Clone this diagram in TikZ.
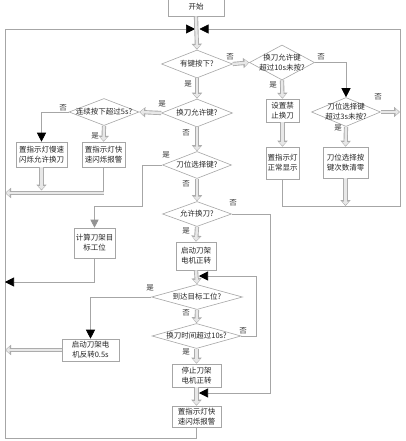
\documentclass[tikz,border=0pt]{standalone}
\usepackage{fontspec}
\setmainfont{Noto Sans CJK SC}
\usetikzlibrary{arrows.meta,shapes.geometric}
\tikzset{
 fnt/.style={font=\fontsize{7.5}{10}\selectfont},
 box/.style={draw=gray!70, line width=0.6pt, fill=white, rectangle, inner sep=0pt, align=center, fnt, text=black!85},
 dia/.style={draw=gray!70, line width=0.6pt, fill=white, diamond, inner sep=0pt},
 dtext/.style={fnt, align=center, inner sep=0pt, text=black!85},
 yn/.style={font=\fontsize{7.5}{9}\selectfont, text=black!80, inner sep=0pt},
 ln/.style={draw=gray!70, line width=0.6pt},
 btip/.style={ln, -{Triangle[width=9pt,length=9pt,color=black]}},
 gtip/.style={ln, -{Triangle[width=8pt,length=8pt,color=gray!85]}},
 bigarrow/.style={draw=gray!18, line width=2.4pt, shorten >=1pt, -{Triangle[width=6.5pt,length=3.5pt]},
   preaction={draw=gray!65, line width=4.2pt, shorten >=0pt, -{Triangle[width=10pt,length=6pt]}}}
}
\begin{document}
\begin{tikzpicture}[x=1pt,y=-1pt]
\useasboundingbox[fill=white] (0,0) rectangle (406,441);
% coordinates
\coordinate (jL) at (195,29);
\coordinate (jR) at (199.5,29);
\coordinate (Lx) at (5,0);
\coordinate (Rx) at (400,0);
\coordinate (cBL) at (5,438);
\coordinate (cR) at (400,206);
\coordinate (c6) at (142,206);
\coordinate (c7) at (270,393);
\coordinate (t7) at (199,393);
\coordinate (c9) at (256,276);
\coordinate (t9) at (199,276);
\coordinate (c10) at (5,282);
\coordinate (y190) at (0,190.5);
\coordinate (f1) at (103.5,193);
% boxes
\node[box, minimum width=56pt, minimum height=18pt] (start) at (196,7) {开始};
\node[box, minimum width=33pt, minimum height=23pt] (forbid) at (282.5,110.5) {设置禁\\止换刀};
\node[box, minimum width=33pt, minimum height=32pt] (normal) at (282.5,163) {置指示灯\\正常显示};
\node[box, minimum width=45pt, minimum height=31pt] (clear) at (345.5,162.5) {刀位选择按\\键次数清零};
\node[box, minimum width=51pt, minimum height=25pt] (slow) at (41.5,154.5) {置指示灯慢速\\闪烁允许换刀};
\node[box, minimum width=43pt, minimum height=25pt] (fast) at (103.5,154.5) {置指示灯快\\速闪烁报警};
\node[box, minimum width=41pt, minimum height=30pt] (calc) at (94.5,243) {计算刀架目\\标工位};
\node[box, minimum width=40pt, minimum height=28pt] (mstart) at (196,256) {启动刀架\\电机正转};
\node[box, minimum width=57pt, minimum height=22pt] (rev) at (90.5,350) {启动刀架电\\机反转0.5s};
\node[box, minimum width=49pt, minimum height=23pt] (stop) at (196.5,375.5) {停止刀架\\电机正转};
\node[box, minimum width=49pt, minimum height=21pt] (alarm) at (196.5,416.5) {置指示灯快\\速闪烁报警};
% diamonds
\node[dia, minimum width=71pt, minimum height=28pt, label={[dtext]center:有键按下?}] (d1) at (197,64) {};
\node[dia, minimum width=65pt, minimum height=35pt, label={[dtext]center:{换刀允许键\\超过10s未按?}}] (d2) at (282,62.5) {};
\node[dia, minimum width=69pt, minimum height=29pt, label={[dtext]center:{刀位选择键\\超过3s未按?}}] (d3) at (346,112) {};
\node[dia, minimum width=71pt, minimum height=28pt, label={[dtext]center:换刀允许键?}] (d4) at (197,113) {};
\node[dia, minimum width=70pt, minimum height=27pt, label={[dtext]center:连续按下超过5s?}] (d5) at (104,112) {};
\node[dia, minimum width=69pt, minimum height=27pt, label={[dtext]center:刀位选择键?}] (d6) at (197,165) {};
\node[dia, minimum width=69pt, minimum height=25pt, label={[dtext]center:允许换刀?}] (d7) at (197,214) {};
\node[dia, minimum width=91pt, minimum height=25pt, label={[dtext]center:到达目标工位?}] (d8) at (197,297) {};
\node[dia, minimum width=89pt, minimum height=25pt, label={[dtext]center:换刀时间超过10s?}] (d9) at (196.5,336) {};
% thin connectors
\draw[btip] (alarm.south) |- (cBL) |- (jL);
\draw[btip] (normal.south) |- (cR) |- (jR);
\draw[btip] (d2.east) -| (d3.north);
\draw[btip] (d5.west) -| (slow.north);
\draw[gtip] (d6.west) -| (c6) -| (calc.north);
\draw[btip] (d7.east) -| (c7) -- (t7);
\draw[btip] (d9.east) -| (c9) -- (t9);
\draw[btip] (d8.west) -| (rev.north);
\draw[btip] (calc.south) |- (c10);
\draw[ln] (fast.south) -- (f1);
% thick arrows
\draw[bigarrow] (start.south) -- (d1.north);
\draw[bigarrow] (d1.east) -- (d2.west);
\draw[bigarrow] (d1.south) -- (d4.north);
\draw[bigarrow] (d2.south) -- (forbid.north);
\draw[bigarrow] (forbid.south) -- (normal.north);
\draw[bigarrow] (d3.east) -- (d3.east -| Rx);
\draw[bigarrow] (d3.south) -- (clear.north);
\draw[bigarrow] (clear.south) -- (clear.south |- cR);
\draw[bigarrow] (d4.west) -- (d5.east);
\draw[bigarrow] (d4.south) -- (d6.north);
\draw[bigarrow] (d5.south) -- (fast.north);
\draw[bigarrow] (slow.south) -- (slow.south |- y190);
\draw[bigarrow] (f1) -- (f1 -| Lx);
\draw[bigarrow] (d6.south) -- (d7.north);
\draw[bigarrow] (d7.south) -- (mstart.north);
\draw[bigarrow] (mstart.south) -- (d8.north);
\draw[bigarrow] (d8.south) -- (d9.north);
\draw[bigarrow] (d9.south) -- (stop.north);
\draw[bigarrow] (stop.south) -- (alarm.north);
\draw[bigarrow] (rev.west) -- (rev.west -| Lx);
% yes/no labels
\node[yn] (n1) at (230,57) {否};
\node[yn] (n2) at (188,84) {是};
\node[yn] (n3) at (321,57) {否};
\node[yn] (n4) at (273,85) {是};
\node[yn] (n5) at (378,97) {否};
\node[yn] (n6) at (338,128) {是};
\node[yn] (n7) at (162,104) {是};
\node[yn] (n8) at (186,133) {否};
\node[yn] (n9) at (63,108) {否};
\node[yn] (n10) at (95,136) {是};
\node[yn] (n11) at (166,155) {是};
\node[yn] (n12) at (186,184) {否};
\node[yn] (n13) at (233,203) {否};
\node[yn] (n14) at (186,231) {是};
\node[yn] (n15) at (150,288) {是};
\node[yn] (n16) at (186,313) {否};
\node[yn] (n17) at (243,331) {否};
\node[yn] (n18) at (186,352) {是};
\end{tikzpicture}
\end{document}
